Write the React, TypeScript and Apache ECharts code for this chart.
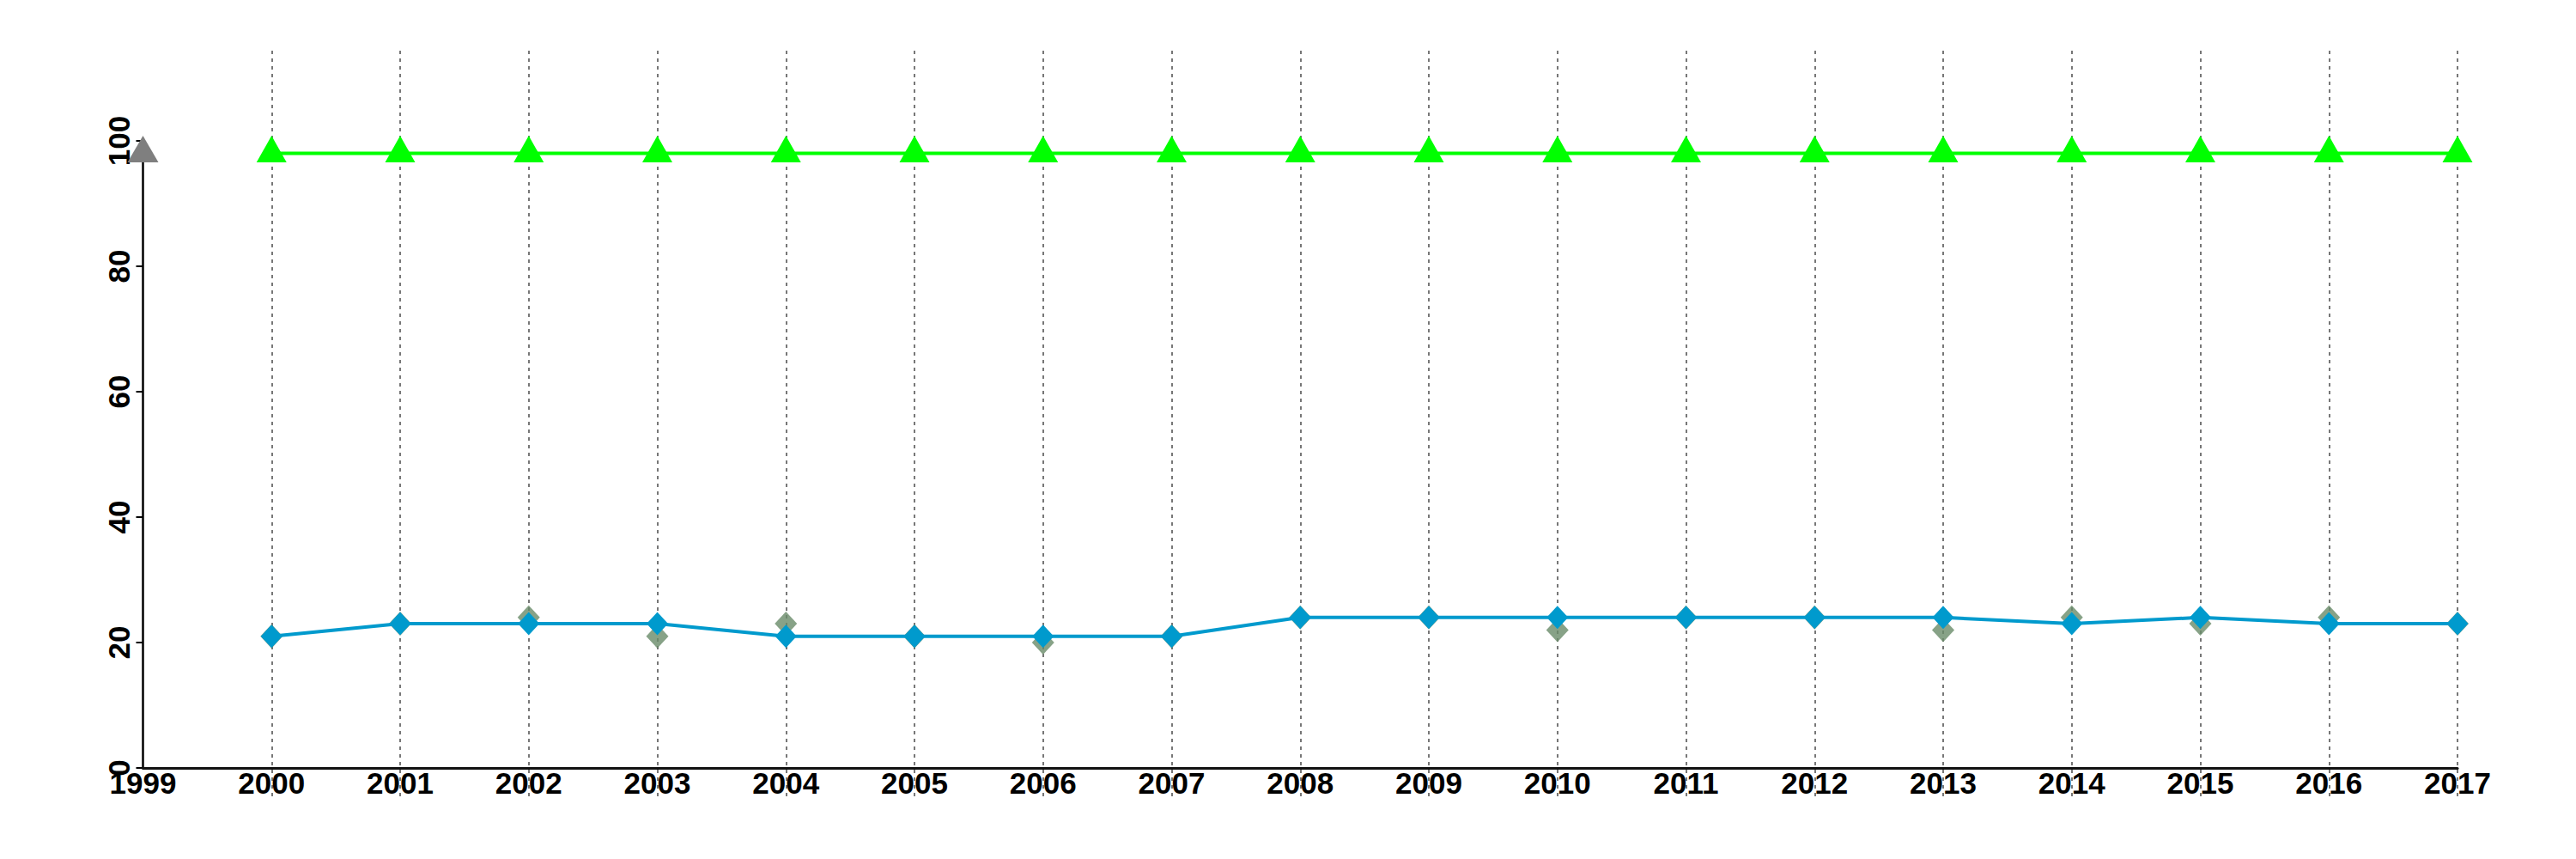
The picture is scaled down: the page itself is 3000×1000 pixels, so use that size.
import React, { useEffect, useRef } from "react";
import * as echarts from "echarts";

const years = [2000, 2001, 2002, 2003, 2004, 2005, 2006, 2007, 2008, 2009, 2010, 2011, 2012, 2013, 2014, 2015, 2016, 2017];
const blueValues = [21, 23, 23, 23, 21, 21, 21, 21, 24, 24, 24, 24, 24, 24, 23, 24, 23, 23];
const grayValues = [21, 23, 24, 21, 23, 21, 20, 21, 24, 24, 22, 24, 24, 22, 24, 23, 24, 23];
const greenValues = [98, 98, 98, 98, 98, 98, 98, 98, 98, 98, 98, 98, 98, 98, 98, 98, 98, 98];
const xMin = 1999;
const xMax = 2017;
const yMin = 0;
const yMax = 100;
const yStep = 20;

const pair = (vals: number[]) => years.map((y, i) => [y, vals[i]]);

const FONT = "'Liberation Sans', Arial, sans-serif";

export default function App() {
  const ref = useRef<HTMLDivElement>(null);
  useEffect(() => {
    document.body.style.margin = "0";
    if (!ref.current) return;
    const chart = echarts.init(ref.current, undefined, { renderer: "svg" });
    const labelStyle = { fontFamily: FONT, fontWeight: "bold" as const, fontSize: 35, color: "#000" };
    chart.setOption({
      animation: false,
      backgroundColor: "#fff",
      grid: [
        { left: 166.5, right: 138, top: 164, bottom: 106 },
        { left: 166.5, right: 138, top: 59, bottom: 73 },
      ],
      xAxis: [
        {
          gridIndex: 0,
          type: "value",
          position: "bottom",
          min: xMin,
          max: xMax,
          interval: 1,
          axisLine: { show: true, onZero: false, lineStyle: { color: "#111", width: 3 } },
          axisTick: { show: false },
          splitLine: { show: false },
          axisLabel: { ...labelStyle, margin: 0, formatter: (v: number) => String(v) },
          z: 3,
        },
        {
          gridIndex: 1,
          type: "value",
          position: "bottom",
          min: xMin,
          max: xMax,
          interval: 1,
          axisLine: { show: false },
          axisTick: { show: false },
          axisLabel: { show: false },
          splitLine: {
            show: true,
            showMinLine: false,
            lineStyle: { color: "#777", width: 2, type: [4, 5] },
          },
        },
      ],
      yAxis: [
        {
          gridIndex: 0,
          type: "value",
          position: "left",
          offset: 0,
          min: yMin,
          max: yMax,
          interval: yStep,
          axisLine: { show: true, onZero: false, lineStyle: { color: "#000", width: 2.5 } },
          axisTick: { show: true, length: 8, lineStyle: { color: "#000", width: 2 } },
          axisLabel: { ...labelStyle, rotate: 90, margin: 11 },
          splitLine: { show: false },
          z: 2,
        },
        {
          gridIndex: 0,
          type: "value",
          position: "left",
          offset: 0,
          min: yMin,
          max: yMax,
          interval: yStep,
          axisLine: {
            show: true,
            onZero: false,
            symbol: ["none", "triangle"],
            symbolSize: [36, 31],
            symbolOffset: [0, -9.5],
            lineStyle: { color: "#7f7f7f", width: 0 },
          },
          axisTick: { show: false },
          axisLabel: { show: false },
          splitLine: { show: false },
          z: 4,
        },
        { gridIndex: 1, type: "value", position: "left", min: 0, max: 1, show: false },
      ],
      series: [
        {
          name: "gray",
          type: "scatter",
          xAxisIndex: 0,
          yAxisIndex: 0,
          data: pair(grayValues),
          symbol: "diamond",
          symbolSize: [26, 28],
          itemStyle: { color: "#698B69" },
          z: 2,
        },
        {
          name: "blue",
          type: "line",
          xAxisIndex: 0,
          yAxisIndex: 0,
          data: pair(blueValues),
          symbol: "diamond",
          symbolSize: [25, 27],
          showAllSymbol: true,
          clip: false,
          lineStyle: { color: "#009ACD", width: 4 },
          itemStyle: { color: "#009ACD" },
          z: 3,
        },
        {
          name: "green",
          type: "line",
          xAxisIndex: 0,
          yAxisIndex: 0,
          data: pair(greenValues),
          symbol: "triangle",
          symbolSize: [35, 31],
          symbolOffset: [0, -5],
          showAllSymbol: true,
          clip: false,
          lineStyle: { color: "#00FF00", width: 4 },
          itemStyle: { color: "#00FF00" },
          z: 4,
        },
      ],
    });
    return () => chart.dispose();
  }, []);
  return <div ref={ref} style={{ width: 3000, height: 1000 }} />;
}
